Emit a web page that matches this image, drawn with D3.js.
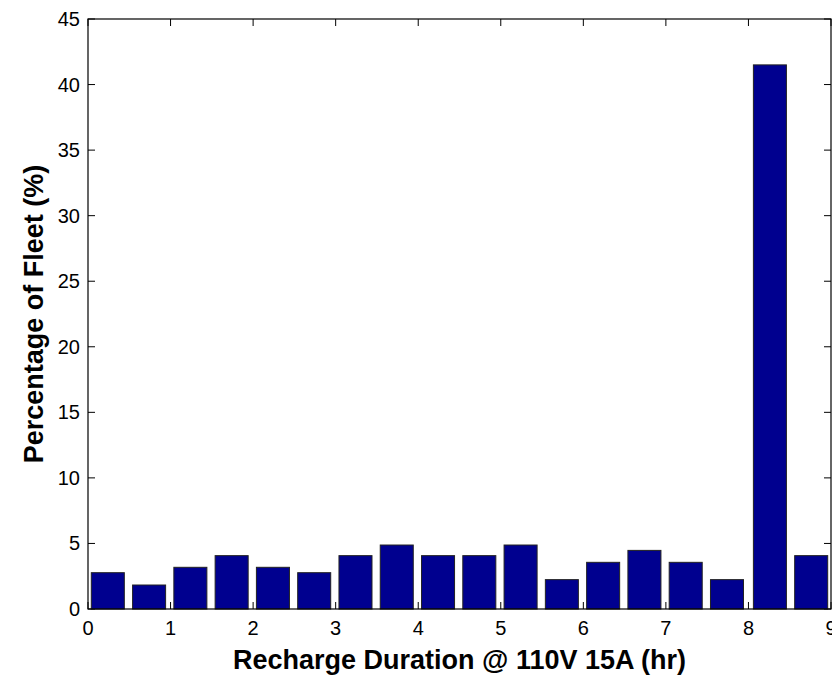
<!DOCTYPE html>
<html>
<head>
<meta charset="utf-8">
<script src="https://cdn.jsdelivr.net/npm/d3@7"></script>
<style>
  body { margin: 0; background: #fff; }
  text { font-family: "Liberation Sans", Arial, sans-serif; }
</style>
</head>
<body>
<script>
// bin centres (hr) and share of fleet (%)
const binCenters = [0.24, 0.74, 1.24, 1.74, 2.24, 2.74, 3.24, 3.74, 4.24,
  4.74, 5.24, 5.74, 6.24, 6.74, 7.24, 7.74, 8.26, 8.76];
const fleetPct = [2.77, 1.83, 3.18, 4.07, 3.18, 2.77, 4.07, 4.88, 4.07,
  4.07, 4.88, 2.24, 3.56, 4.47, 3.56, 2.24, 41.5, 4.07];
const xTicks = [0, 1, 2, 3, 4, 5, 6, 7, 8, 9];
const yTicks = [0, 5, 10, 15, 20, 25, 30, 35, 40, 45];
const barWidth = 0.4;

const width = 832, height = 675;
const plotLeft = 88, plotRight = 831, plotTop = 19, plotBottom = 609;

const svg = d3
  .select("body")
  .append("svg")
  .attr("width", width)
  .attr("height", height);

const x = d3.scaleLinear().domain([0, 9]).range([plotLeft, plotRight]);
const y = d3.scaleLinear().domain([0, 45]).range([plotBottom, plotTop]);

// ticks (inward, on all four sides)
const tickLen = 7;
const g = svg.append("g").attr("stroke", "#000").attr("stroke-width", 1);
xTicks.forEach(function (t) {
  g.append("line").attr("x1", x(t)).attr("x2", x(t)).attr("y1", plotBottom).attr("y2", plotBottom - tickLen);
  g.append("line").attr("x1", x(t)).attr("x2", x(t)).attr("y1", plotTop).attr("y2", plotTop + tickLen);
});
yTicks.forEach(function (t) {
  g.append("line").attr("x1", plotLeft).attr("x2", plotLeft + tickLen).attr("y1", y(t)).attr("y2", y(t));
  g.append("line").attr("x1", plotRight).attr("x2", plotRight - tickLen).attr("y1", y(t)).attr("y2", y(t));
});

// bars
svg
  .selectAll("rect.bar")
  .data(fleetPct)
  .enter()
  .append("rect")
  .attr("class", "bar")
  .attr("x", function (d, i) {
    return x(binCenters[i] - barWidth / 2);
  })
  .attr("width", x(barWidth) - x(0))
  .attr("y", function (d) {
    return y(d);
  })
  .attr("height", function (d) {
    return y(0) - y(d);
  })
  .style("fill", "#00008f")
  .style("stroke", "#222")
  .style("stroke-width", 1);

// box
svg
  .append("rect")
  .attr("x", plotLeft)
  .attr("y", plotTop)
  .attr("width", plotRight - plotLeft)
  .attr("height", plotBottom - plotTop)
  .style("fill", "none")
  .style("stroke", "#000")
  .style("stroke-width", 1.2);

// tick labels
svg
  .selectAll("text.xt")
  .data(xTicks)
  .enter()
  .append("text")
  .attr("class", "xt")
  .attr("x", (d) => x(d))
  .attr("y", 635)
  .attr("text-anchor", "middle")
  .style("font-size", "20px")
  .text((d) => d);

svg
  .selectAll("text.yt")
  .data(yTicks)
  .enter()
  .append("text")
  .attr("class", "yt")
  .attr("x", 80)
  .attr("y", (d) => y(d) + 7)
  .attr("text-anchor", "end")
  .style("font-size", "20px")
  .text((d) => d);

// axis titles
svg
  .append("text")
  .attr("x", (plotLeft + plotRight) / 2)
  .attr("y", 669)
  .attr("text-anchor", "middle")
  .style("font-size", "27px")
  .style("font-weight", "bold")
  .text("Recharge Duration @ 110V 15A (hr)");

svg
  .append("text")
  .attr("transform", "translate(43," + (plotTop + plotBottom) / 2 + ") rotate(-90)")
  .attr("text-anchor", "middle")
  .style("font-size", "27px")
  .style("font-weight", "bold")
  .text("Percentage of Fleet (%)");
</script>
</body>
</html>
